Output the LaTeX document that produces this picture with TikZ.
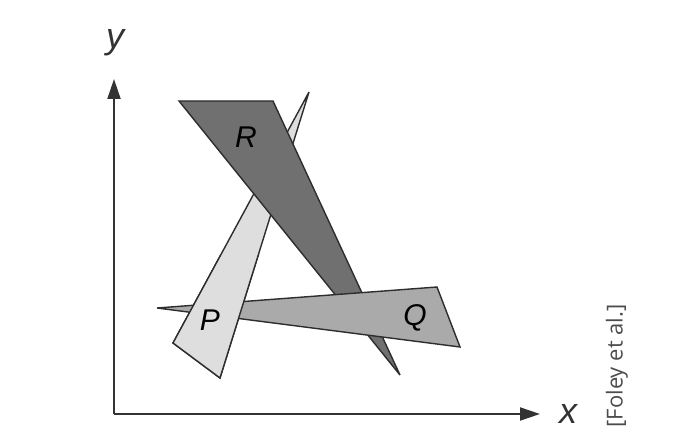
\documentclass[tikz,border=0pt]{standalone}
\usepackage{fontspec}
\newfontfamily\helv{Liberation Sans}
\newfontfamily\citefont{Open Sans}
\definecolor{darkpoly}{RGB}{112, 112, 112}
\definecolor{midpoly}{RGB}{170, 170, 170}
\definecolor{lightpoly}{RGB}{222, 222, 222}
\definecolor{edgegray}{RGB}{45, 45, 45}
\usetikzlibrary{arrows.meta, positioning}
\tikzset{
  poly/.style={draw=edgegray, line width=0.7pt, line join=miter, miter limit=3},
  polylabel/.style={font=\helv\itshape\fontsize{15}{17}\selectfont},
  axislabel/.style={font=\helv\itshape\fontsize{18}{20}\selectfont, text=black!80}
}

\begin{document}
\begin{tikzpicture}[x=0.5pt, y=-0.5pt]
  \useasboundingbox (0,0) rectangle (692,444);

  % axes
  \coordinate (O) at (114,414);
  \coordinate (ytip) at (114,79);
  \coordinate (xtip) at (540,414);
  \draw[line width=1pt, draw=black!80, -{Triangle[length=10pt, width=6.5pt]}] (O) -- (ytip);
  \draw[line width=1pt, draw=black!80, -{Triangle[length=10pt, width=6.5pt]}] (O) -- (xtip);
  \node[axislabel] (ylabel) at (115,43) {y};
  \node[axislabel] (xlabel) at (568,414) {x};

  % the three triangles, overlapping in a cycle
  \filldraw[poly, fill=lightpoly] (309,92) -- (173,343) -- (220,378) -- cycle;
  \filldraw[poly, fill=darkpoly] (179,101) -- (273,101) -- (400,375) -- cycle;
  \filldraw[poly, fill=midpoly] (157,308) -- (437,287) -- (460,347) -- cycle;
  \begin{scope}
    \clip (0,255) rectangle (692,444);
    \filldraw[poly, fill=lightpoly] (309,92) -- (173,343) -- (220,378) -- cycle;
  \end{scope}

  \node[polylabel] (labelR) at (246,137) {R};
  \node[polylabel] (labelP) at (210,320) {P};
  \node[polylabel] (labelQ) at (415,318) {Q};

  \node[rotate=90, text=black!70, font=\citefont\fontsize{11}{13}\selectfont] (credit) at (617,366) {[Foley et al.]};
\end{tikzpicture}
\end{document}
